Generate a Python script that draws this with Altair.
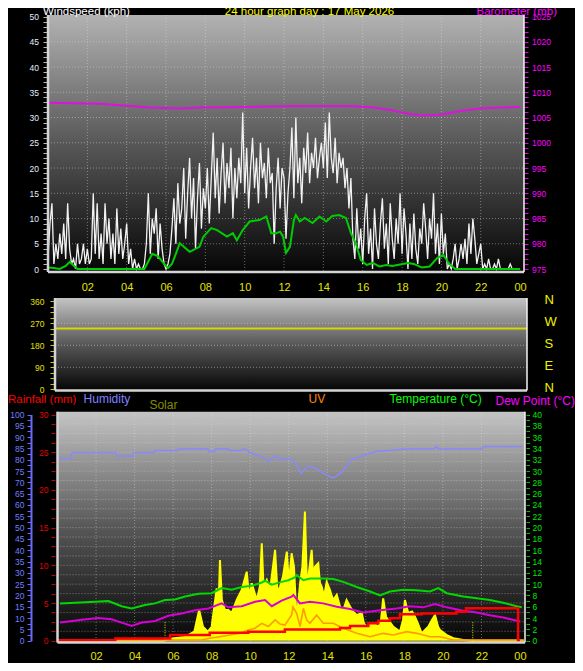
import altair as alt
import pandas as pd

FONT = "Liberation Sans"

# ------------------------------------------------------------------ data
hour_ticks = [2, 4, 6, 8, 10, 12, 14, 16, 18, 20, 22, 24]
hour_labels = ["02", "04", "06", "08", "10", "12", "14", "16", "18", "20", "22", "00"]
compass_ticks = [0, 90, 180, 270, 360]
compass_labels = ["N", "E", "S", "W", "N"]

# wind speed (kph), one reading every 6 minutes from 00:00
wind_speed = [
    2, 9, 13, 1, 5, 2, 7, 3, 9, 2,
    13, 4, 1, 2, 0, 5, 1, 2, 5, 1,
    4, 1, 2, 15, 3, 13, 2, 7, 1, 13,
    5, 10, 2, 7, 1, 12, 3, 8, 2, 5,
    9, 1, 4, 0, 2, 0, 1, 0, 0, 1,
    5, 15, 3, 10, 7, 12, 2, 9, 4, 1,
    0, 1, 3, 8, 14, 5, 17, 9, 12, 20,
    6, 15, 22, 10, 18, 4, 14, 21, 8, 16,
    12, 20, 9, 18, 27, 14, 22, 11, 19, 25,
    13, 21, 16, 24, 10, 20, 14, 22, 17, 31,
    15, 24, 12, 20, 26, 16, 22, 13, 25, 18,
    21, 14, 24, 17, 19, 5, 16, 22, 12, 20,
    18, 6, 15, 20, 28, 14, 30, 17, 22, 13,
    24, 19, 27, 17, 23, 20, 26, 18, 22, 25,
    20, 29, 18, 31, 22, 19, 26, 17, 23, 20,
    22, 16, 20, 12, 18, 6, 2, 12, 4, 8,
    1, 10, 15, 3, 8, 0, 12, 5, 2, 9,
    14, 4, 9, 1, 13, 6, 2, 10, 5, 15,
    3, 12, 7, 0, 9, 2, 11, 4, 1, 8,
    5, 13, 8, 2, 10, 6, 15, 3, 9, 1,
    11, 3, 7, 0, 1, 0, 2, 5, 0, 2,
    5, 2, 6, 1, 9, 3, 10, 6, 1, 3,
    5, 0, 1, 0, 2, 0, 0, 1, 0, 2,
    0, 0, 0, 0, 0, 1, 0, 0, 0, 0,
]
wind_minutes = [6 * i for i in range(len(wind_speed))]

wind_avg_hours = [0.0, 0.3, 0.6, 0.9, 1.1, 1.3, 1.5, 3.0, 4.9, 5.1, 5.3, 5.6, 5.9, 6.1, 6.3,
                  6.5, 6.7, 7.2, 7.7, 7.9, 8.3, 8.6, 9.1, 9.4, 9.6, 9.9, 10.25, 10.75, 11.1,
                  11.35, 11.6, 11.8, 11.95, 12.1, 12.3, 12.5, 12.6, 12.8, 13.05, 13.45, 13.8,
                  14.15, 14.45, 14.8, 15.15, 15.4, 15.65, 15.9, 16.2, 16.5, 16.85, 17.2, 17.5,
                  17.9, 18.3, 18.6, 19.0, 19.4, 19.8, 20.1, 20.4, 20.7, 24.0]
wind_avg = [0.3, 0.2, 0.0, 0.6, 1.4, 0.7, 0.0, 0.0, 0.0, 1.5, 3.0, 2.5, 1.0, 0.2, 1.0,
            3.0, 5.1, 3.4, 4.4, 6.4, 8.1, 7.7, 6.4, 7.1, 5.7, 7.7, 9.4, 9.7, 10.4,
            7.1, 7.1, 7.4, 6.4, 3.2, 4.4, 9.7, 10.7, 9.4, 10.1, 9.1, 10.4,
            9.4, 10.5, 10.7, 10.1, 7.1, 5.1, 1.8, 0.8, 1.2, 0.5, 0.8, 0.6,
            0.9, 1.2, 1.0, 0.3, 0.5, 2.2, 2.8, 1.0, 0.0, 0.0]

baro_hours = [0.0, 2.64, 5.19, 6.71, 7.73, 10.27, 12.81, 15.35, 16.6, 17.39, 18.15, 18.91,
              19.93, 20.95, 21.96, 22.98, 24.0]
baro_mb = [1007.9, 1007.7, 1007.0, 1006.8, 1007.0, 1007.1, 1007.3, 1007.3, 1007.0, 1006.5,
           1005.9, 1005.4, 1005.5, 1006.3, 1006.8, 1007.0, 1007.1]

dir_hours = [0, 6, 12, 18, 24]
dir_deg = [248, 248, 248, 248, 248]

temp_hours = [0.13, 0.91, 1.95, 2.64, 3.33, 3.85, 4.54, 5.06, 5.58, 6.09, 6.62, 7.31, 8.0,
              8.52, 9.04, 9.56, 10.08, 10.6, 10.77, 11.12, 11.63, 11.98, 12.32, 12.41, 12.76,
              13.1, 13.79, 14.31, 14.83, 15.53, 16.22, 16.74, 17.25, 17.95, 18.64, 19.33,
              19.76, 20.2, 21.06, 21.75, 22.44, 23.13, 23.83, 24.09]
temp_c = [6.6, 6.7, 6.9, 7.0, 6.1, 5.7, 6.3, 6.6, 7.2, 7.3, 7.8, 8.3, 8.4,
          9.3, 9.0, 9.5, 9.7, 10.3, 10.6, 9.9, 10.4, 10.7, 11.2, 11.6, 10.7,
          11.0, 11.0, 10.9, 10.4, 9.5, 8.7, 8.0, 8.7, 9.0, 8.9, 8.7,
          9.3, 8.4, 7.8, 7.5, 7.2, 6.7, 6.1, 5.9]

dew_hours = [0.13, 0.56, 1.26, 2.12, 2.81, 3.33, 3.85, 4.37, 5.06, 5.75, 6.45, 7.14, 7.83,
             8.52, 8.86, 9.56, 10.25, 10.77, 11.12, 11.63, 12.15, 12.24, 12.58, 13.1, 13.79,
             14.49, 15.18, 15.87, 16.74, 17.6, 18.29, 18.98, 19.59, 20.2, 21.06, 21.75,
             22.44, 23.13, 24.0]
dew_c = [3.2, 3.4, 3.7, 4.0, 3.8, 3.2, 2.6, 3.2, 3.5, 4.4, 4.8, 5.4, 5.7,
         6.6, 5.9, 6.1, 6.9, 7.2, 6.1, 7.1, 7.8, 8.1, 6.6, 6.9, 6.6,
         6.0, 5.6, 5.0, 5.4, 5.7, 6.1, 5.9, 6.5, 5.9, 5.3, 5.0,
         4.5, 4.1, 3.4]

hum_hours = [0.0, 0.7, 0.75, 3.05, 3.1, 3.9, 3.95, 5.0, 5.05, 6.25, 6.3, 7.8, 7.85, 8.15,
             8.2, 8.85, 8.9, 9.5, 9.7, 10.0, 10.6, 10.95, 11.3, 11.6, 12.0, 12.3, 12.65,
             13.0, 13.5, 13.8, 14.3, 14.75, 15.25, 15.8, 16.5, 17.2, 18.0, 19.55, 19.65,
             19.8, 22.0, 22.1, 24.1]
hum_pct = [80.7, 80.7, 83.2, 83.2, 81.7, 81.7, 83.2, 83.2, 84.1, 84.1, 84.8, 84.8, 83.6, 83.6,
           84.8, 84.8, 84.1, 84.1, 84.8, 83.2, 81.4, 79.2, 81.7, 79.8, 80.5, 79.2, 74.1,
           77.3, 75.8, 74.0, 71.9, 74.5, 80.0, 81.7, 83.6, 84.1, 84.8, 84.8, 85.8,
           84.8, 84.8, 85.8, 85.8]

rain_hours = [0.0, 3.0, 5.85, 7.9, 9.9, 11.8, 14.66, 15.18, 16.13, 16.65, 17.25, 17.77,
              18.9, 20.7, 21.2, 23.9, 24.0]
rain_mm = [0.05, 0.3, 0.76, 1.06, 1.2, 1.5, 1.7, 1.95, 2.3, 2.65, 2.97, 3.5,
           3.6, 3.85, 4.3, 0.0, 0.0]

solar_hours = [0, 5.5, 5.84, 6.6, 7.1, 7.35, 7.55, 7.8, 8.0, 8.26,
               8.35, 8.43, 8.53, 8.69, 8.86, 9.04, 9.3, 9.56, 9.82, 9.94,
               10.08, 10.34, 10.5, 10.6, 10.69, 10.86, 11.03, 11.29, 11.42, 11.55,
               11.7, 11.9, 12.01, 12.15, 12.27, 12.41, 12.59, 12.71, 12.84, 12.93,
               13.02, 13.19, 13.27, 13.36, 13.53, 13.62, 13.71, 13.83, 13.97, 14.14,
               14.3, 14.49, 14.66, 14.83, 15.0, 15.18, 15.33, 15.53, 15.79, 15.9,
               16.05, 16.22, 16.39, 16.65, 16.79, 16.9, 17.05, 17.17, 17.43, 17.77,
               17.93, 18.03, 18.2, 18.4, 18.55, 18.7, 18.9, 19.07, 19.24, 19.43,
               19.59, 19.75, 19.85, 20.2, 20.54, 21.06, 21.5, 24.2]
solar_wm2 = [0, 0, 10, 20, 48, 163, 74, 48, 74, 278,
             147, 428, 216, 163, 163, 147, 216, 269, 366, 234,
             305, 216, 287, 517, 287, 322, 269, 482, 252, 287,
             340, 473, 305, 464, 393, 110, 305, 393, 685, 340,
             340, 482, 340, 393, 411, 305, 287, 234, 312, 269,
             216, 243, 181, 163, 216, 181, 155, 136, 147, 92,
             74, 92, 92, 74, 110, 225, 127, 110, 74, 48,
             110, 216, 147, 155, 127, 92, 39, 57, 74, 110,
             136, 74, 57, 30, 13, 4, 0, 0]

uv_hours = [0, 7.48, 7.9, 8.43, 8.95, 9.47, 9.9, 10.25, 10.6, 10.94,
            11.29, 11.55, 11.8, 12.15, 12.22, 12.41, 12.59, 12.76, 12.93, 13.1,
            13.45, 13.79, 14.31, 14.83, 15.53, 16.22, 16.9, 17.43, 18.12, 18.64,
            19.33, 19.85, 20.54, 24.2]
uv_index = [0.05, 0.05, 0.17, 0.28, 0.4, 0.52, 0.76, 0.88, 1.23, 1.0,
            1.47, 1.18, 1.1, 1.82, 2.4, 1.94, 1.0, 2.29, 1.47, 1.23,
            1.82, 1.23, 1.23, 0.88, 0.52, 0.28, 0.52, 0.4, 0.64, 0.52,
            0.28, 0.28, 0.05, 0.05]

sun_marker_hours = [5.58, 21.55]

# ------------------------------------------------------------------ helpers
def S(domain, rng):
    return alt.Scale(domain=domain, range=rng, nice=False, zero=False)

X1 = S([0, 24.2], [40, 516])
Y1 = S([0, 50], [261, 8.5])
YB = S([975, 1025], [261, 8.5])
X2 = S([0, 24], [47, 519])
Y2 = S([0, 360], [381.3, 293.2])
X3 = S([0, 24.26], [49.5, 517])
R3 = S([0, 30], [632.7, 406.5])
T3 = S([0, 40], [632.7, 406.5])
H3 = S([0, 100], [632.7, 406.5])
SOL = S([0, 1200], [632.7, 406.5])
UVS = S([0, 16], [632.7, 406.5])


def grad(top):
    return {"gradient": "linear", "x1": 0, "y1": 0, "x2": 0, "y2": 1,
            "stops": [{"offset": 0, "color": top},
                      {"offset": 0.5, "color": "#585858"},
                      {"offset": 1, "color": "#060606"}]}


def every(mod):
    return f"datum.value % {mod} === 0 ? format(datum.value, 'd') : ''"


def num_axis(orient, offset, values, mod, label_color, tick_color, pad,
             tick_size=4, size=8.5, domain=False, domain_color="#000", domain_width=1):
    kw = dict(orient=orient, offset=offset, values=values, labelExpr=every(mod),
              labelColor=label_color, tickColor=tick_color, tickSize=tick_size, tickWidth=1,
              labelPadding=pad, labelFont=FONT, labelFontSize=size, labelOverlap=False,
              labelFlush=False, grid=False, title=None, domain=domain)
    if domain:
        kw.update(domainColor=domain_color, domainWidth=domain_width)
    return alt.Axis(**kw)


hour_expr = " : ".join(f"datum.value === {v} ? '{l}'" for v, l in zip(hour_ticks, hour_labels)) + " : ''"
compass_expr = " : ".join(f"datum.value === {v} ? '{l}'" for v, l in zip(compass_ticks, compass_labels)) + " : ''"


def hour_axis(offset, pad):
    return alt.Axis(orient="bottom", offset=offset, values=hour_ticks, labelExpr=hour_expr,
                    ticks=False, tickSize=0, domain=False, grid=False, title=None,
                    labelColor="#e4e400", labelFont=FONT, labelFontSize=11, labelPadding=pad,
                    labelFlush=False, labelOverlap=False)


def rect_bg(xs, ys, x0, x1, y0, y1, top="#c4c4c4"):
    df = pd.DataFrame({"x0": [x0], "x1": [x1], "y0": [y0], "y1": [y1]})
    return alt.Chart(df).mark_rect(color=grad(top)).encode(
        x=alt.X("x0:Q", scale=xs, axis=None), x2="x1",
        y=alt.Y("y0:Q", scale=ys, axis=None), y2="y1")


def hgrid(xs, ys, vals, x0, x1, opacity=0.45):
    df = pd.DataFrame({"v": vals, "x0": x0, "x1": x1})
    return alt.Chart(df).mark_rule(color="#e0e0e0", strokeDash=[1, 2], opacity=opacity).encode(
        x=alt.X("x0:Q", scale=xs, axis=None), x2="x1",
        y=alt.Y("v:Q", scale=ys, axis=None))


def vgrid(xs, ys, vals, y0, y1, opacity=0.45):
    df = pd.DataFrame({"v": vals, "y0": y0, "y1": y1})
    return alt.Chart(df).mark_rule(color="#e0e0e0", strokeDash=[1, 2], opacity=opacity).encode(
        x=alt.X("v:Q", scale=xs, axis=None),
        y=alt.Y("y0:Q", scale=ys, axis=None), y2="y1")


def frame(xs, ys, x_lo, x_hi, y_bot, y_top):
    df = pd.DataFrame({"x0": [x_lo, x_lo], "x1": [x_lo, x_hi],
                       "y0": [y_bot, y_bot], "y1": [y_top, y_bot]})
    left_bottom = alt.Chart(df).mark_rule(color="#d4d4d4", strokeWidth=2.5).encode(
        x=alt.X("x0:Q", scale=xs, axis=None), x2="x1",
        y=alt.Y("y0:Q", scale=ys, axis=None), y2="y1")
    dfr = pd.DataFrame({"x0": [x_hi], "y0": [y_bot], "y1": [y_top]})
    right = alt.Chart(dfr).mark_rule(color="#f4f4f4", strokeWidth=1.5).encode(
        x=alt.X("x0:Q", scale=xs, axis=None),
        y=alt.Y("y0:Q", scale=ys, axis=None), y2="y1")
    return [left_bottom, right]


def line(hours, vals, xs, ys, color, width, xaxis=None, yaxis=None, interp="linear"):
    df = pd.DataFrame({"h": hours, "v": vals})
    return alt.Chart(df).mark_line(color=color, strokeWidth=width, interpolate=interp,
                                   opacity=1).encode(
        x=alt.X("h:Q", scale=xs, axis=xaxis),
        y=alt.Y("v:Q", scale=ys, axis=yaxis))


def label(text, x, y, color, size=12, align="left", baseline="middle"):
    return alt.Chart(pd.DataFrame({"t": [text]})).mark_text(
        align=align, baseline=baseline, font=FONT, fontSize=size, color=color).encode(
        text="t:N", x=alt.value(x), y=alt.value(y))


layers = []

# ------------------------------------------------------------------ panel 1 : wind + barometer
layers.append(rect_bg(X1, Y1, 0, 24.2, -0.4, 50.3, top="#b2b2b2"))
layers.append(hgrid(X1, Y1, [5, 10, 15, 20, 25, 30, 35, 40, 45], 0, 24.2))
layers.append(vgrid(X1, Y1, hour_ticks[:-1], -0.4, 50.3))
wind_hours = [m / 60 for m in wind_minutes]
layers.append(line(wind_hours, wind_speed, X1, Y1, "#f2f2f2", 1.3,
                   xaxis=hour_axis(-392, 10),
                   yaxis=num_axis("left", -39, list(range(0, 51)), 5, "#e2eeff", "#b8b8b8", 4.5)))
layers.append(line(wind_avg_hours, wind_avg, X1, Y1, "#00cc00", 2))
layers.append(line(baro_hours, baro_mb, X1, YB, "#e010e0", 2,
                   yaxis=num_axis("right", -51, list(range(975, 1026)), 5, "#ff00ff", "#e000e0", 3.5)))
layers += frame(X1, Y1, 0, 24.2, -0.6, 50.3)

# ------------------------------------------------------------------ panel 2 : wind direction
bg2 = pd.DataFrame({"x0": [0], "x1": [24], "y0": [-2], "y1": [373]})
layers.append(alt.Chart(bg2).mark_rect(color=grad("#c4c4c4")).encode(
    x=alt.X("x0:Q", scale=X2, axis=None), x2="x1",
    y=alt.Y("y0:Q", scale=Y2, axis=alt.Axis(
        orient="right", offset=-31, values=compass_ticks, labelExpr=compass_expr,
        ticks=False, tickSize=0, domain=False, grid=False, title=None, labelAlign="left",
        labelColor="#f2f200", labelFont=FONT, labelFontSize=13, labelPadding=0,
        labelOffset=-2, labelOverlap=False, labelFlush=False)),
    y2="y1"))
layers.append(hgrid(X2, Y2, [90, 180, 270], 0, 24, opacity=0.5))
layers.append(line(dir_hours, dir_deg, X2, Y2, "#d8d800", 2,
                   yaxis=num_axis("left", -46, [i * 22.5 for i in range(17)], 90,
                                  "#e0e000", "#c8c800", 6, tick_size=4, size=8.5)))
layers += frame(X2, Y2, 0, 24, -5, 373)

# ------------------------------------------------------------------ panel 3 : rain / hum / solar / uv / temp
layers.append(rect_bg(X3, R3, 0, 24.26, -0.05, 30.37))
layers.append(hgrid(X3, R3, [1.25 * i for i in range(1, 24)], 0, 24.26))
layers.append(vgrid(X3, R3, hour_ticks[:-1], -0.05, 30.37))
sol_df = pd.DataFrame({"h": solar_hours, "v": solar_wm2})
layers.append(alt.Chart(sol_df).mark_area(
    color="#ffff00", opacity=1, fillOpacity=1,
    line={"color": "#ffff00", "strokeWidth": 2}).encode(
    x=alt.X("h:Q", scale=X3, axis=None), y=alt.Y("v:Q", scale=SOL, axis=None)))
layers.append(line(uv_hours, uv_index, X3, UVS, "#ff9a00", 1.6))
sun_df = pd.DataFrame({"h": sun_marker_hours, "y0": 0, "y1": 2.6})
layers.append(alt.Chart(sun_df).mark_rule(color="#e8e800", strokeDash=[1, 1.5]).encode(
    x=alt.X("h:Q", scale=X3, axis=None), y=alt.Y("y0:Q", scale=R3, axis=None), y2="y1"))
layers.append(line(hum_hours, hum_pct, X3, H3, "#8888ff", 1.5,
                   yaxis=num_axis("left", -23, [i * 2.5 for i in range(41)], 5, "#6f7fff",
                                  "#6a6aff", 3, domain=True, domain_color="#6a6aff",
                                  domain_width=2)))
layers.append(line(temp_hours, temp_c, X3, T3, "#00d800", 2,
                   xaxis=hour_axis(-20, 7.5),
                   yaxis=num_axis("right", -49, list(range(0, 41)), 2, "#00e800", "#00c000",
                                  2.5, tick_size=3.5)))
layers.append(line(dew_hours, dew_c, X3, T3, "#d800d8", 2))
layers.append(line(rain_hours, rain_mm, X3, R3, "#ff0000", 2.5, interp="step-after",
                   yaxis=num_axis("left", -47, [i * 1.25 for i in range(25)], 5, "#e00000",
                                  "#d00000", 3)))
layers += frame(X3, R3, 0, 24.26, -0.25, 30.37)

# ------------------------------------------------------------------ titles
layers.append(label("Windspeed (kph)", 35, 7, "#ffffff", size=11.5, baseline="alphabetic"))
layers.append(label("24 hour graph day : 17 May 2026", 301.5, 7, "#ffff00", size=11.5,
                    align="center", baseline="alphabetic"))
layers.append(label("Barometer (mb)", 549, 7, "#ff00ff", size=11.5, align="right",
                    baseline="alphabetic"))
layers.append(label("Rainfall (mm)", 0, 392, "#ff0000", size=11.5))
layers.append(label("Humidity", 75.6, 391, "#8080ff"))
layers.append(label("Solar", 141.4, 397, "#8a8a00"))
layers.append(label("UV", 300.6, 391, "#ff8800"))
layers.append(label("Temperature (°C)", 381.6, 391, "#00ff00"))
layers.append(label("Dew Point (°C)", 567, 392.5, "#ff00ff", align="right"))

chart = alt.layer(*layers).resolve_scale(x="independent", y="independent").properties(
    width=567, height=655, autosize=alt.AutoSizeParams(type="none"), padding=0
).configure(background="#000000").configure_view(stroke=None)

chart.save("out.html", embed_options={"renderer": "svg", "actions": False})
